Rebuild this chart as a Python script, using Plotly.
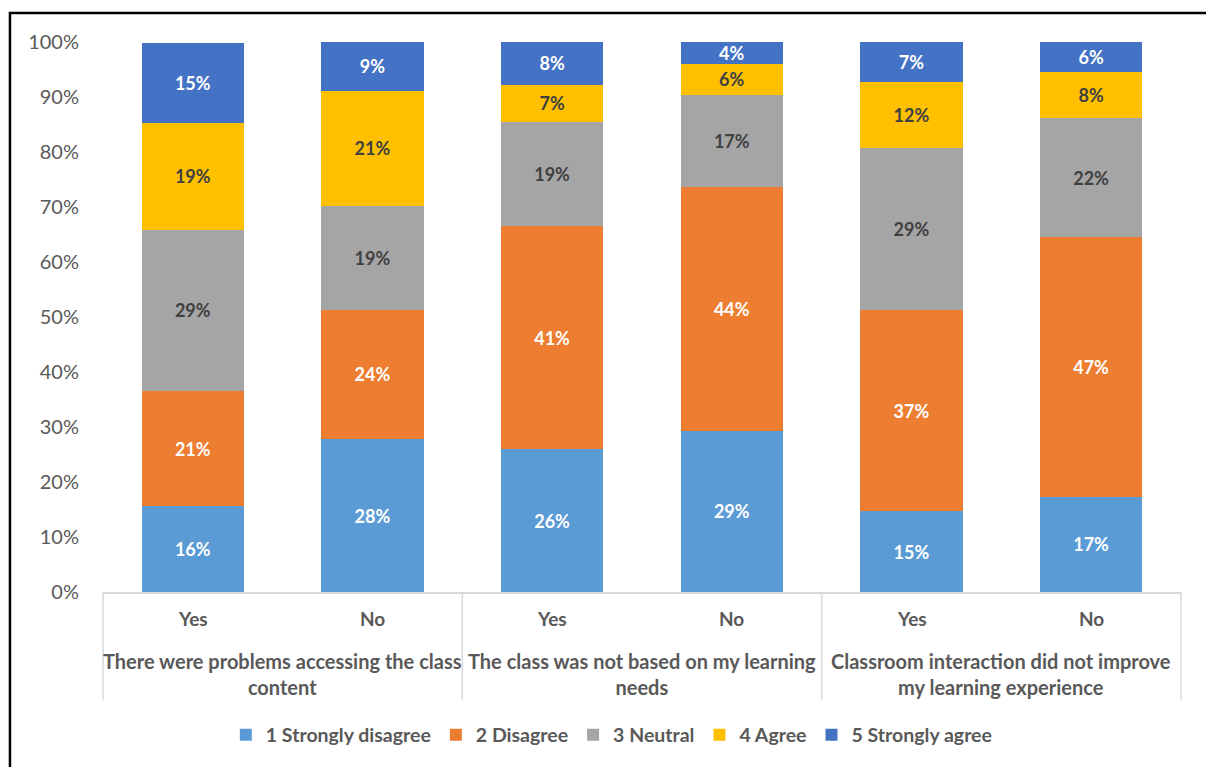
import plotly.graph_objects as go

groups = [
    "There were problems accessing the class<br>content",
    "The class was not based on my learning<br>needs",
    "Classroom interaction did not improve<br>my learning experience",
]
answers = ["Yes", "No"]

series_names = ["1 Strongly disagree", "2 Disagree", "3 Neutral", "4 Agree", "5 Strongly agree"]
strongly_disagree = [15.6, 27.8, 26.0, 29.3, 14.7, 17.3]
disagree = [20.9, 23.5, 40.5, 44.3, 36.6, 47.2]
neutral = [29.4, 18.9, 19.0, 16.8, 29.4, 21.7]
agree = [19.3, 20.9, 6.7, 5.6, 12.0, 8.3]
strongly_agree = [14.7, 8.9, 7.8, 4.0, 7.3, 5.5]

series_values = [strongly_disagree, disagree, neutral, agree, strongly_agree]
colors = ["#5B9BD5", "#ED7D31", "#A5A5A5", "#FFC000", "#4472C4"]
text_colors = ["white", "white", "#404040", "#404040", "white"]

x_outer = [g for g in groups for _ in answers]
x_inner = [a for _ in groups for a in answers]

FONT = "Lato, 'Open Sans', sans-serif"
GRAY = "#595959"
LINE = "#D9D9D9"

fig = go.Figure()
for name, vals, c, tc in zip(series_names, series_values, colors, text_colors):
    fig.add_trace(go.Bar(
        x=[x_outer, x_inner], y=vals, name=name,
        marker=dict(color=c, line=dict(width=0)),
        texttemplate="%{y:.0f}%", textposition="inside", insidetextanchor="middle",
        textfont=dict(family=FONT, size=18, color=tc, weight="bold"),
        textangle=0, constraintext="none",
    ))

n_cols = len(x_inner)
annotations = []
for i, lab in enumerate(x_inner):
    annotations.append(dict(
        xref="paper", yref="paper", x=(i + 0.5) / n_cols, y=-0.049,
        text=lab, showarrow=False, xanchor="center", yanchor="middle",
        font=dict(family=FONT, size=19, color=GRAY, weight="bold"),
    ))
for j, g in enumerate(groups):
    annotations.append(dict(
        xref="paper", yref="paper", x=(j + 0.5) / len(groups), y=-0.149,
        text=g, showarrow=False, xanchor="center", yanchor="middle",
        font=dict(family=FONT, size=20, color=GRAY, weight="bold"),
    ))

shapes = []
for k in range(len(groups) + 1):
    shapes.append(dict(type="line", xref="paper", yref="paper",
                       x0=k / len(groups), x1=k / len(groups), y0=0, y1=-0.196,
                       line=dict(color=LINE, width=1.5)))
shapes.append(dict(type="rect", xref="paper", yref="paper",
                   x0=-0.0863, x1=1.05, y0=-0.5, y1=1.0527,
                   line=dict(color="black", width=2.5), fillcolor="rgba(0,0,0,0)", layer="below"))

fig.update_layout(
    barmode="stack", bargap=0.43,
    width=1206, height=767,
    margin=dict(l=103, r=25, t=42, b=175),
    paper_bgcolor="white", plot_bgcolor="white",
    font=dict(family=FONT, color=GRAY),
    legend=dict(
        orientation="h", x=0.472, xanchor="center", y=-0.26, yanchor="middle",
        traceorder="normal", font=dict(family=FONT, size=19.5, color=GRAY, weight="bold"),
        itemwidth=30,
    ),
    annotations=annotations,
    shapes=shapes,
)
fig.update_yaxes(
    range=[0, 100], dtick=10, ticksuffix="%", showgrid=False, zeroline=False,
    showline=False, tickfont=dict(family=FONT, size=20, color=GRAY), ticks="",
    ticklabelstandoff=23,
)
fig.update_xaxes(
    type="multicategory", showline=True, linecolor=LINE, linewidth=1.5,
    showticklabels=False, showdividers=False,
    showgrid=False, ticks="",
)

fig.write_html("out.html", config={"displayModeBar": False},
               post_script="document.body.style.margin='0';")
